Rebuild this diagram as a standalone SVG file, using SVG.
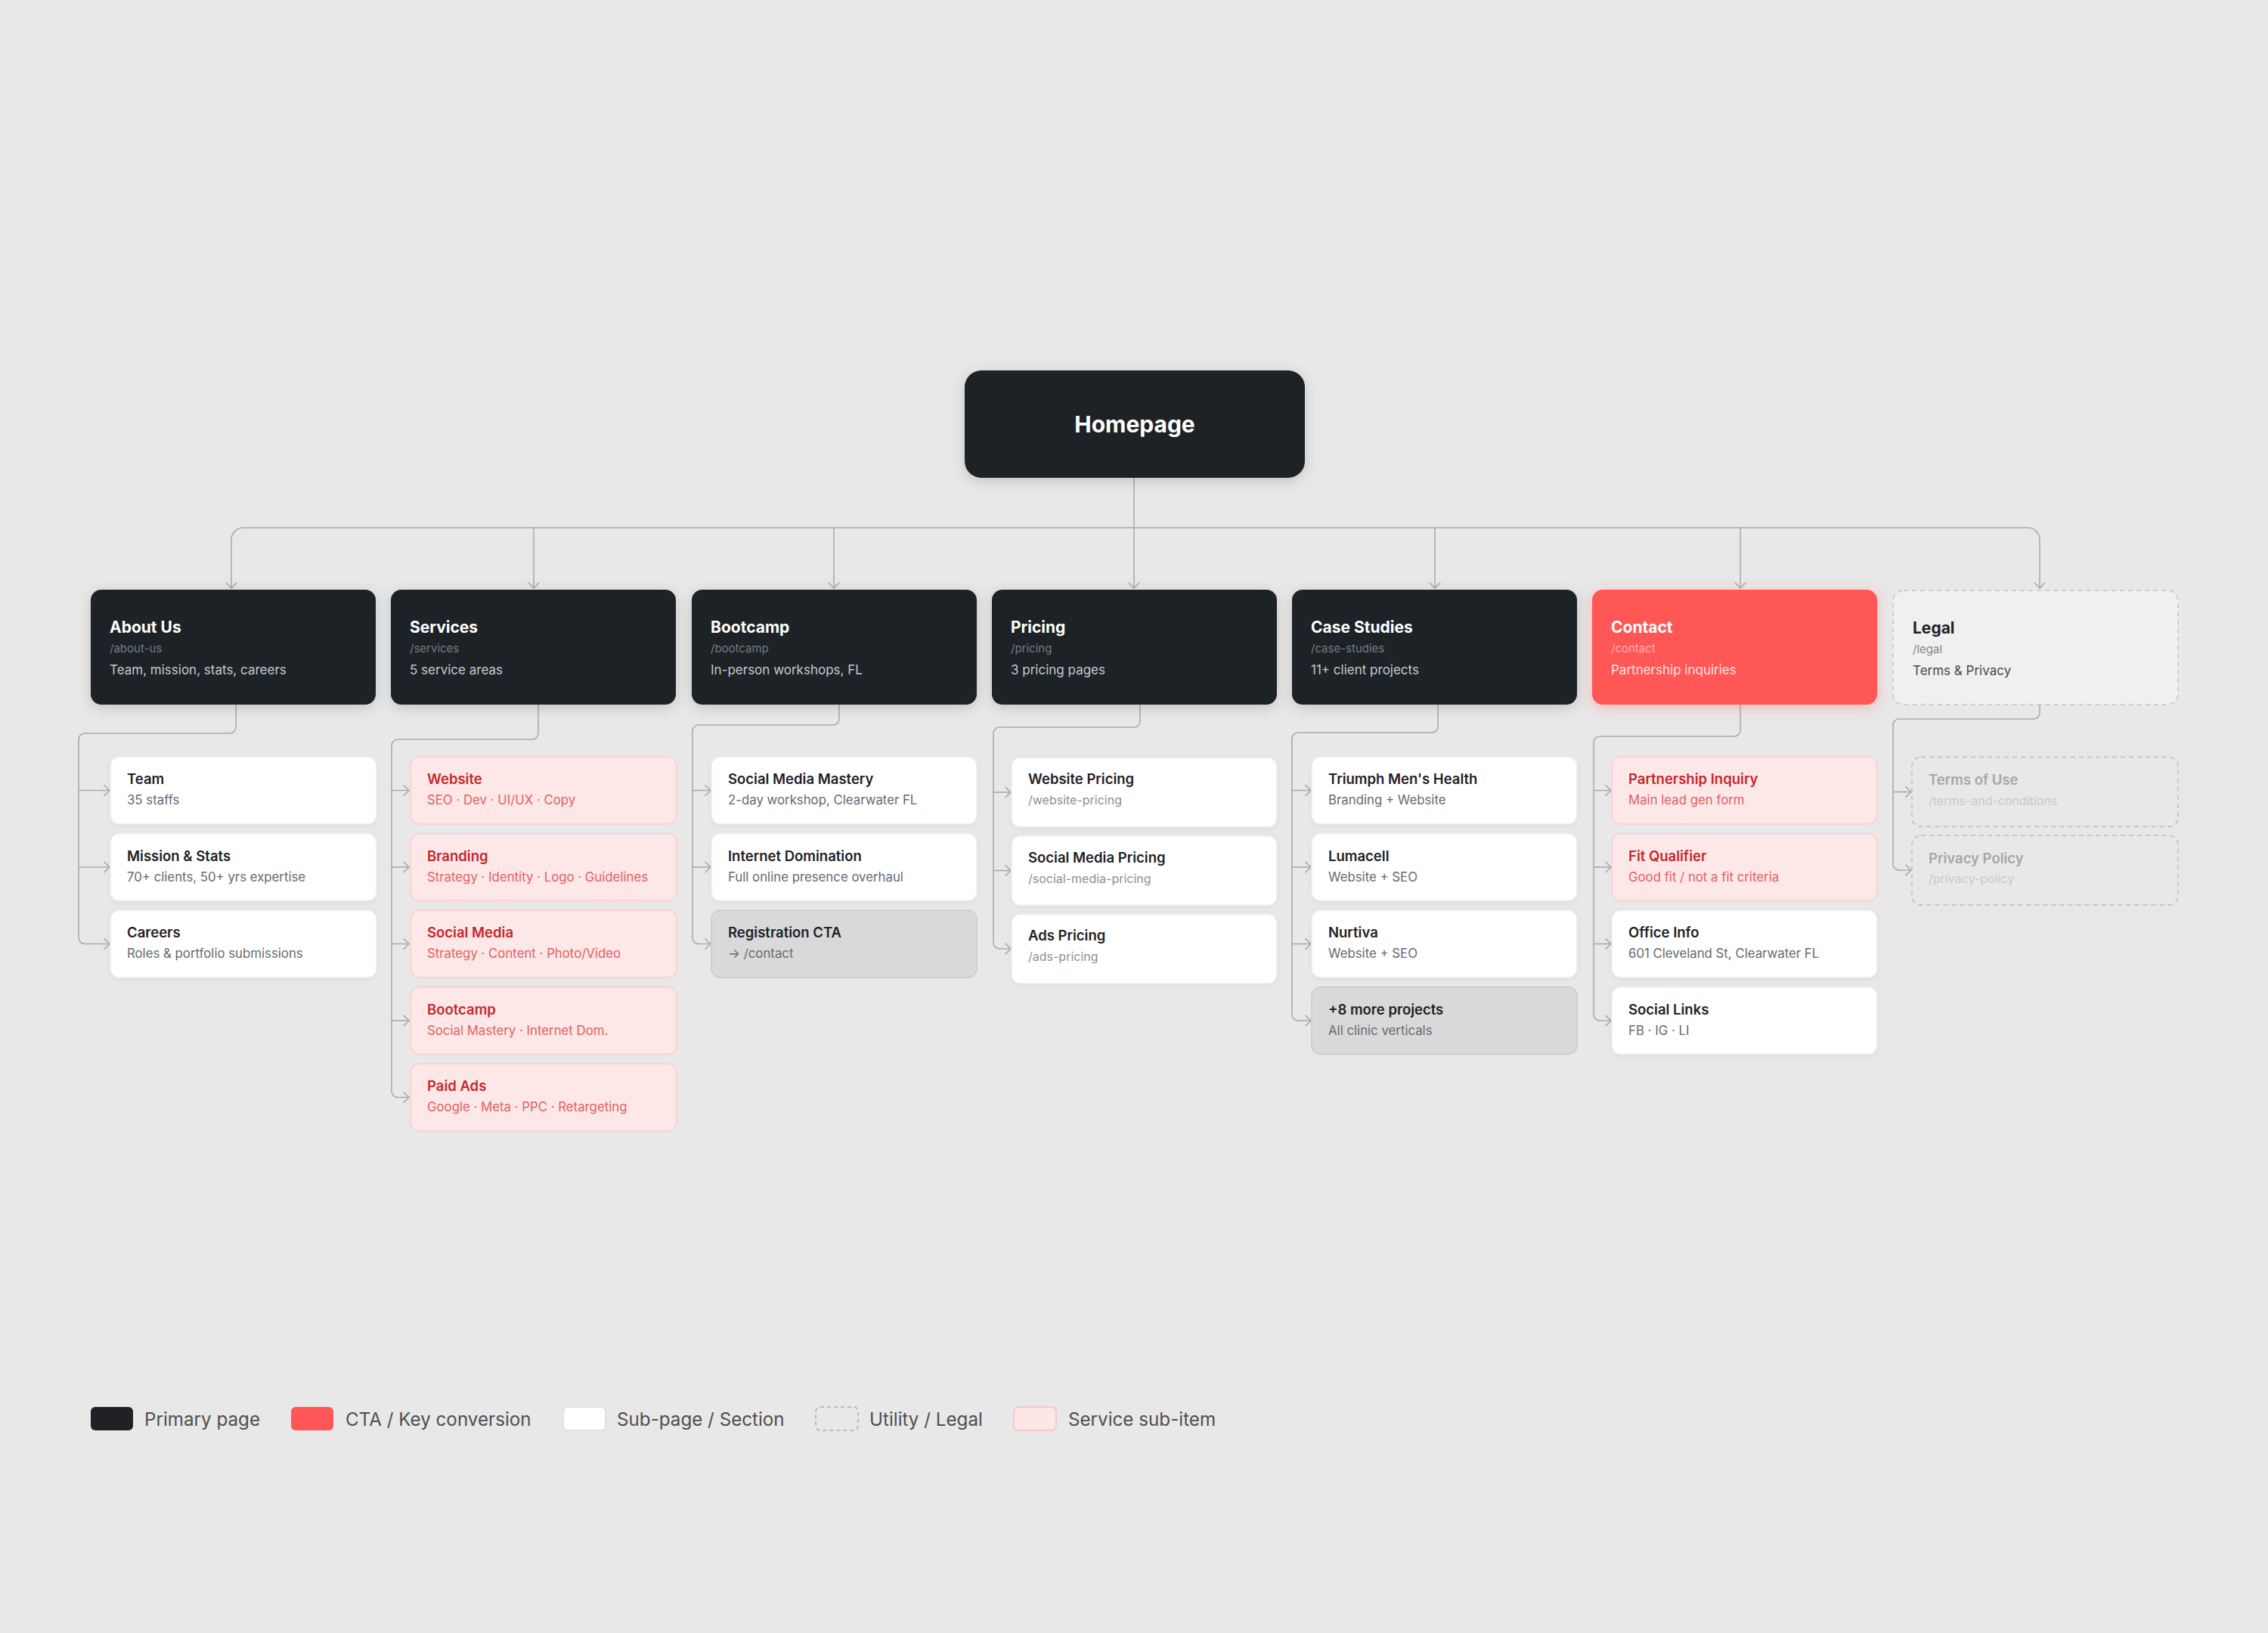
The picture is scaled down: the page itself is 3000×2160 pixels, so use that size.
<svg xmlns="http://www.w3.org/2000/svg" width="3000" height="2160" viewBox="0 0 3000 2160">
<defs>
<style>
text{font-family:Inter,"Liberation Sans",sans-serif}
.dark{fill:#1f2126}
.t1{font-weight:700;font-size:21px;fill:#ffffff}
.p1{font-size:15px;fill:#777b82}
.d1{font-size:17px;fill:#c7c9ce}
.cta{fill:#ff5757}
.cp1{font-size:15px;fill:#ffb2b2}
.cd1{font-size:17px;fill:#ffe3e3}
.white{fill:#ffffff;stroke:#ececec;stroke-width:1.5}
.pink{fill:#fde7e7;stroke:#fbcccc;stroke-width:1.5}
.gray{fill:#d9d9d9;stroke:#cacaca;stroke-width:1.5}
.util{fill:#f0f0f0;stroke:#c2c2c2;stroke-width:1.5;stroke-dasharray:6 5}
.utilsub{fill:#e8e8e8;stroke:#bdbdbd;stroke-width:1.5;stroke-dasharray:6 5}
.st{font-weight:600;font-size:18.5px;fill:#1f2126}
.sd{font-size:16.8px;fill:#666a70}
.sp{font-size:16px;fill:#8d8f94}
.pt{font-weight:600;font-size:18.5px;fill:#c4282e}
.pd{font-size:16.8px;fill:#df6262}
.ut{font-weight:600;font-size:18.5px;fill:#a6a6a6}
.up{font-size:16px;fill:#c9c9c9}
.lt{font-weight:700;font-size:21px;fill:#1f2126}
.lp{font-size:15px;fill:#858585}
.ld{font-size:17px;fill:#4a4a4a}
.conn path{fill:none;stroke:#ababab;stroke-width:1.6}
.leg{font-size:24.2px;fill:#4f4f4f}
</style>
<filter id="sh" x="-20%" y="-30%" width="140%" height="170%"><feDropShadow dx="0" dy="4" stdDeviation="9" flood-color="#000" flood-opacity="0.16"/></filter>
<filter id="shr" x="-20%" y="-30%" width="140%" height="170%"><feDropShadow dx="0" dy="4" stdDeviation="9" flood-color="#ff4545" flood-opacity="0.3"/></filter>
<filter id="sh2" x="-10%" y="-20%" width="120%" height="150%"><feDropShadow dx="0" dy="2" stdDeviation="3" flood-color="#000" flood-opacity="0.05"/></filter>
<marker id="ah" viewBox="0 0 12 16" refX="10" refY="8" markerWidth="12" markerHeight="16" markerUnits="userSpaceOnUse" orient="auto"><path d="M2.5,0.8 L10,8 L2.5,15.2" fill="none" stroke="#ababab" stroke-width="1.6"/></marker>
</defs>
<rect x="0" y="0" width="3000" height="2160" fill="#e8e8e8"/>

<g id="connectors" class="conn">
<path d="M1500,632 V778" marker-end="url(#ah)"/>
<path d="M1500,698 H322 A16,16 0 0 0 306,714 V778" marker-end="url(#ah)"/>
<path d="M1500,698 H2682 A16,16 0 0 1 2698,714 V778" marker-end="url(#ah)"/>
<path d="M706,698 V778" marker-end="url(#ah)"/>
<path d="M1103,698 V778" marker-end="url(#ah)"/>
<path d="M1898,698 V778" marker-end="url(#ah)"/>
<path d="M2302,698 V778" marker-end="url(#ah)"/>
<!-- About -->
<path d="M312,932 V962 A8,8 0 0 1 304,970 H112 A8,8 0 0 0 104,978 V1240.5 A8,8 0 0 0 112,1248.5 H145" marker-end="url(#ah)"/>
<path d="M104,1045.5 H145" marker-end="url(#ah)"/>
<path d="M104,1147 H145" marker-end="url(#ah)"/>
<!-- Services -->
<path d="M712,932 V970 A8,8 0 0 1 704,978 H526 A8,8 0 0 0 518,986 V1443.5 A8,8 0 0 0 526,1451.5 H541" marker-end="url(#ah)"/>
<path d="M518,1045.5 H541" marker-end="url(#ah)"/>
<path d="M518,1147 H541" marker-end="url(#ah)"/>
<path d="M518,1248.5 H541" marker-end="url(#ah)"/>
<path d="M518,1350 H541" marker-end="url(#ah)"/>
<!-- Bootcamp -->
<path d="M1110,932 V951 A8,8 0 0 1 1102,959 H924 A8,8 0 0 0 916,967 V1240.5 A8,8 0 0 0 924,1248.5 H940" marker-end="url(#ah)"/>
<path d="M916,1045.5 H940" marker-end="url(#ah)"/>
<path d="M916,1147 H940" marker-end="url(#ah)"/>
<!-- Pricing -->
<path d="M1508,932 V954 A8,8 0 0 1 1500,962 H1322 A8,8 0 0 0 1314,970 V1247 A8,8 0 0 0 1322,1255 H1337" marker-end="url(#ah)"/>
<path d="M1314,1048 H1337" marker-end="url(#ah)"/>
<path d="M1314,1151.5 H1337" marker-end="url(#ah)"/>
<!-- Case Studies -->
<path d="M1902,932 V961 A8,8 0 0 1 1894,969 H1717 A8,8 0 0 0 1709,977 V1342 A8,8 0 0 0 1717,1350 H1734" marker-end="url(#ah)"/>
<path d="M1709,1045.5 H1734" marker-end="url(#ah)"/>
<path d="M1709,1147 H1734" marker-end="url(#ah)"/>
<path d="M1709,1248.5 H1734" marker-end="url(#ah)"/>
<!-- Contact -->
<path d="M2302,932 V966 A8,8 0 0 1 2294,974 H2116 A8,8 0 0 0 2108,982 V1342 A8,8 0 0 0 2116,1350 H2131" marker-end="url(#ah)"/>
<path d="M2108,1045.5 H2131" marker-end="url(#ah)"/>
<path d="M2108,1147 H2131" marker-end="url(#ah)"/>
<path d="M2108,1248.5 H2131" marker-end="url(#ah)"/>
<!-- Legal -->
<path d="M2698,932 V943 A8,8 0 0 1 2690,951 H2512 A8,8 0 0 0 2504,959 V1143 A8,8 0 0 0 2512,1151 H2528" marker-end="url(#ah)"/>
<path d="M2504,1047.5 H2528" marker-end="url(#ah)"/>
</g>

<g id="homepage">
<rect x="1276" y="490" width="450" height="142" rx="22" class="dark" filter="url(#sh)"/>
<text x="1501" y="572" text-anchor="middle" style="font-weight:700;font-size:30px;fill:#fff">Homepage</text>
</g>

<g id="about-us">
<rect x="120" y="780" width="377" height="152" rx="14" class="dark" filter="url(#sh)"/>
<text x="145" y="837" class="t1">About Us</text>
<text x="145" y="863" class="p1">/about-us</text>
<text x="145" y="892" class="d1">Team, mission, stats, careers</text>
</g>
<g id="services">
<rect x="517" y="780" width="377" height="152" rx="14" class="dark" filter="url(#sh)"/>
<text x="542" y="837" class="t1">Services</text>
<text x="542" y="863" class="p1">/services</text>
<text x="542" y="892" class="d1">5 service areas</text>
</g>
<g id="bootcamp">
<rect x="915" y="780" width="377" height="152" rx="14" class="dark" filter="url(#sh)"/>
<text x="940" y="837" class="t1">Bootcamp</text>
<text x="940" y="863" class="p1">/bootcamp</text>
<text x="940" y="892" class="d1">In-person workshops, FL</text>
</g>
<g id="pricing">
<rect x="1312" y="780" width="377" height="152" rx="14" class="dark" filter="url(#sh)"/>
<text x="1337" y="837" class="t1">Pricing</text>
<text x="1337" y="863" class="p1">/pricing</text>
<text x="1337" y="892" class="d1">3 pricing pages</text>
</g>
<g id="case-studies">
<rect x="1709" y="780" width="377" height="152" rx="14" class="dark" filter="url(#sh)"/>
<text x="1734" y="837" class="t1">Case Studies</text>
<text x="1734" y="863" class="p1">/case-studies</text>
<text x="1734" y="892" class="d1">11+ client projects</text>
</g>
<g id="contact">
<rect x="2106" y="780" width="377" height="152" rx="14" class="cta" filter="url(#shr)"/>
<text x="2131" y="837" class="t1">Contact</text>
<text x="2131" y="863" class="cp1">/contact</text>
<text x="2131" y="892" class="cd1">Partnership inquiries</text>
</g>
<g id="legal">
<rect x="2504" y="781" width="377" height="151" rx="14" class="util"/>
<text x="2530" y="838" class="lt">Legal</text>
<text x="2530" y="864" class="lp">/legal</text>
<text x="2530" y="893" class="ld">Terms &amp; Privacy</text>
</g>

<!-- About subs -->
<g id="team"><rect x="146" y="1001" width="352" height="89" rx="12" class="white" filter="url(#sh2)"/><text x="168" y="1037" class="st">Team</text><text x="168" y="1064" class="sd">35 staffs</text></g>
<g id="mission-stats"><rect x="146" y="1102.5" width="352" height="89" rx="12" class="white" filter="url(#sh2)"/><text x="168" y="1138.5" class="st">Mission &amp; Stats</text><text x="168" y="1165.5" class="sd">70+ clients, 50+ yrs expertise</text></g>
<g id="careers"><rect x="146" y="1204" width="352" height="89" rx="12" class="white" filter="url(#sh2)"/><text x="168" y="1240" class="st">Careers</text><text x="168" y="1267" class="sd">Roles &amp; portfolio submissions</text></g>

<!-- Services subs -->
<g id="svc-website"><rect x="543" y="1001" width="352" height="89" rx="12" class="pink"/><text x="565" y="1037" class="pt">Website</text><text x="565" y="1064" class="pd">SEO · Dev · UI/UX · Copy</text></g>
<g id="svc-branding"><rect x="543" y="1102.5" width="352" height="89" rx="12" class="pink"/><text x="565" y="1138.5" class="pt">Branding</text><text x="565" y="1165.5" class="pd">Strategy · Identity · Logo · Guidelines</text></g>
<g id="svc-social"><rect x="543" y="1204" width="352" height="89" rx="12" class="pink"/><text x="565" y="1240" class="pt">Social Media</text><text x="565" y="1267" class="pd">Strategy · Content · Photo/Video</text></g>
<g id="svc-bootcamp"><rect x="543" y="1305.5" width="352" height="89" rx="12" class="pink"/><text x="565" y="1341.5" class="pt">Bootcamp</text><text x="565" y="1368.5" class="pd">Social Mastery · Internet Dom.</text></g>
<g id="svc-paid-ads"><rect x="543" y="1407" width="352" height="89" rx="12" class="pink"/><text x="565" y="1443" class="pt">Paid Ads</text><text x="565" y="1470" class="pd">Google · Meta · PPC · Retargeting</text></g>

<!-- Bootcamp subs -->
<g id="social-media-mastery"><rect x="941" y="1001" width="351" height="89" rx="12" class="white" filter="url(#sh2)"/><text x="963" y="1037" class="st">Social Media Mastery</text><text x="963" y="1064" class="sd">2-day workshop, Clearwater FL</text></g>
<g id="internet-domination"><rect x="941" y="1102.5" width="351" height="89" rx="12" class="white" filter="url(#sh2)"/><text x="963" y="1138.5" class="st">Internet Domination</text><text x="963" y="1165.5" class="sd">Full online presence overhaul</text></g>
<g id="registration-cta"><rect x="941" y="1204" width="351" height="89" rx="12" class="gray"/><text x="963" y="1240" class="st">Registration CTA</text><text x="963" y="1267" class="sd">→ /contact</text></g>

<!-- Pricing subs -->
<g id="website-pricing"><rect x="1338" y="1002" width="351" height="92" rx="12" class="white" filter="url(#sh2)"/><text x="1360" y="1037" class="st">Website Pricing</text><text x="1360" y="1064" class="sp">/website-pricing</text></g>
<g id="social-media-pricing"><rect x="1338" y="1105.5" width="351" height="92" rx="12" class="white" filter="url(#sh2)"/><text x="1360" y="1140.5" class="st">Social Media Pricing</text><text x="1360" y="1167.5" class="sp">/social-media-pricing</text></g>
<g id="ads-pricing"><rect x="1338" y="1209" width="351" height="92" rx="12" class="white" filter="url(#sh2)"/><text x="1360" y="1244" class="st">Ads Pricing</text><text x="1360" y="1271" class="sp">/ads-pricing</text></g>

<!-- Case Studies subs -->
<g id="triumph"><rect x="1735" y="1001" width="351" height="89" rx="12" class="white" filter="url(#sh2)"/><text x="1757" y="1037" class="st">Triumph Men's Health</text><text x="1757" y="1064" class="sd">Branding + Website</text></g>
<g id="lumacell"><rect x="1735" y="1102.5" width="351" height="89" rx="12" class="white" filter="url(#sh2)"/><text x="1757" y="1138.5" class="st">Lumacell</text><text x="1757" y="1165.5" class="sd">Website + SEO</text></g>
<g id="nurtiva"><rect x="1735" y="1204" width="351" height="89" rx="12" class="white" filter="url(#sh2)"/><text x="1757" y="1240" class="st">Nurtiva</text><text x="1757" y="1267" class="sd">Website + SEO</text></g>
<g id="more-projects"><rect x="1735" y="1305.5" width="351" height="89" rx="12" class="gray"/><text x="1757" y="1341.5" class="st">+8 more projects</text><text x="1757" y="1368.5" class="sd">All clinic verticals</text></g>

<!-- Contact subs -->
<g id="partnership-inquiry"><rect x="2132" y="1001" width="351" height="89" rx="12" class="pink"/><text x="2154" y="1037" class="pt">Partnership Inquiry</text><text x="2154" y="1064" class="pd">Main lead gen form</text></g>
<g id="fit-qualifier"><rect x="2132" y="1102.5" width="351" height="89" rx="12" class="pink"/><text x="2154" y="1138.5" class="pt">Fit Qualifier</text><text x="2154" y="1165.5" class="pd">Good fit / not a fit criteria</text></g>
<g id="office-info"><rect x="2132" y="1204" width="351" height="89" rx="12" class="white" filter="url(#sh2)"/><text x="2154" y="1240" class="st">Office Info</text><text x="2154" y="1267" class="sd">601 Cleveland St, Clearwater FL</text></g>
<g id="social-links"><rect x="2132" y="1305.5" width="351" height="89" rx="12" class="white" filter="url(#sh2)"/><text x="2154" y="1341.5" class="st">Social Links</text><text x="2154" y="1368.5" class="sd">FB · IG · LI</text></g>

<!-- Legal subs -->
<g id="terms-of-use"><rect x="2529" y="1001.5" width="352" height="92" rx="12" class="utilsub"/><text x="2551" y="1038" class="ut">Terms of Use</text><text x="2551" y="1064.5" class="up">/terms-and-conditions</text></g>
<g id="privacy-policy"><rect x="2529" y="1105" width="352" height="92" rx="12" class="utilsub"/><text x="2551" y="1141.5" class="ut">Privacy Policy</text><text x="2551" y="1168" class="up">/privacy-policy</text></g>

<g id="legend">
<rect x="120" y="1861" width="56" height="31" rx="6" fill="#1f2126"/>
<text x="191" y="1886" class="leg">Primary page</text>
<rect x="385" y="1861" width="56" height="31" rx="6" fill="#ff5757"/>
<text x="457" y="1886" class="leg">CTA / Key conversion</text>
<rect x="745" y="1861" width="56" height="31" rx="6" fill="#ffffff" stroke="#dcdcdc" stroke-width="1.5"/>
<text x="816" y="1886" class="leg">Sub-page / Section</text>
<rect x="1079" y="1861" width="56" height="31" rx="6" fill="none" stroke="#aaaaaa" stroke-width="1.5" stroke-dasharray="5 4"/>
<text x="1150" y="1886" class="leg">Utility / Legal</text>
<rect x="1341" y="1861" width="56" height="31" rx="6" fill="#fde6e6" stroke="#fbbcbc" stroke-width="1.5"/>
<text x="1413" y="1886" class="leg">Service sub-item</text>
</g>
</svg>
